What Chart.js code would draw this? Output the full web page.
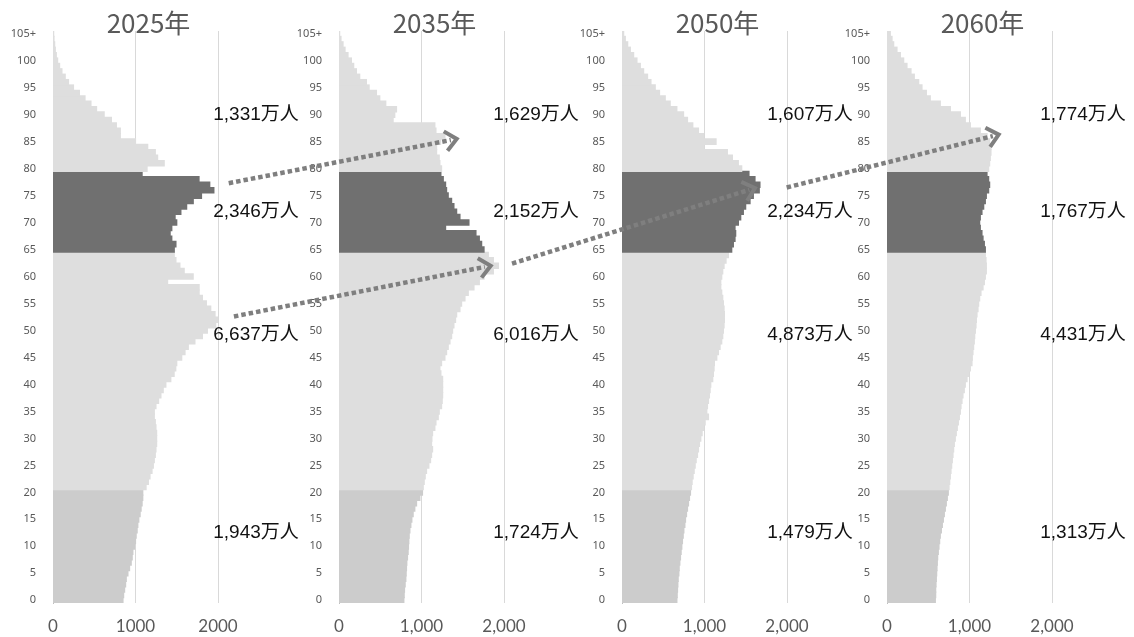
<!DOCTYPE html>
<html lang="ja">
<head>
<meta charset="utf-8">
<script src="https://cdn.jsdelivr.net/npm/chart.js@4.4.1/dist/chart.umd.min.js"></script>
<style>
html, body { margin: 0; padding: 0; background: #fff; }
#wrap { position: relative; width: 1134px; height: 637px; overflow: hidden; }
#wrap canvas { position: absolute; top: 0; }
#arrows { left: 0; pointer-events: none; }
</style>
</head>
<body>
<div id="wrap">
  <canvas id="c0" width="300" height="637"></canvas>
  <canvas id="c1" width="300" height="637"></canvas>
  <canvas id="c2" width="300" height="637"></canvas>
  <canvas id="c3" width="300" height="637"></canvas>
  <canvas id="arrows" width="1134" height="637"></canvas>
</div>
<script>
// 年齢 0〜105+（千人）
const ages = [];
for (let a = 0; a <= 105; a++) ages.push(a === 105 ? '105+' : String(a));

const years = ['2025年', '2035年', '2050年', '2060年'];

const pop2025 = [
  848, 856, 868, 880, 888, 908, 928, 948, 960, 968,
  988, 1000, 1008, 1020, 1028, 1040, 1056, 1068, 1080, 1088,
  1088, 1128, 1156, 1176, 1200, 1216, 1228, 1240, 1248, 1256,
  1256, 1256, 1248, 1240, 1228, 1228, 1248, 1280, 1308, 1336,
  1368, 1428, 1468, 1488, 1500, 1560, 1600, 1640, 1720, 1811,
  1871, 1972, 2004, 1964, 1912, 1859, 1811, 1771, 1771, 1389,
  1699, 1590, 1538, 1490, 1470, 1470, 1490, 1440, 1420, 1440,
  1500, 1480, 1550, 1620, 1700, 1800, 1950, 1900, 1770, 1080,
  1140, 1348, 1268, 1240, 1148, 1000, 816, 816, 768, 708,
  620, 528, 460, 388, 320, 248, 188, 148, 108, 80,
  56, 40, 28, 20, 12, 8
];
const pop2035 = [
  786, 790, 794, 802, 810, 814, 818, 822, 830, 838,
  842, 846, 851, 859, 871, 883, 899, 919, 940, 980,
  1012, 1021, 1033, 1045, 1061, 1089, 1110, 1122, 1134, 1122,
  1126, 1134, 1162, 1175, 1203, 1215, 1243, 1251, 1256, 1256,
  1256, 1256, 1235, 1223, 1243, 1284, 1304, 1324, 1345, 1365,
  1377, 1393, 1413, 1426, 1466, 1486, 1527, 1567, 1636, 1701,
  1758, 1871, 1932, 1871, 1810, 1758, 1729, 1701, 1660, 1292,
  1575, 1466, 1426, 1393, 1365, 1324, 1304, 1292, 1264, 1235,
  1243, 1223, 1215, 1183, 1183, 1231, 1284, 1175, 1162, 656,
  676, 697, 567, 494, 454, 365, 332, 251, 211, 178,
  150, 109, 73, 49, 24, 8
];
const pop2050 = [
  665, 669, 673, 677, 681, 689, 693, 701, 709, 717,
  725, 733, 742, 750, 762, 770, 782, 794, 806, 818,
  830, 842, 850, 862, 875, 887, 899, 915, 927, 939,
  955, 971, 987, 1008, 1048, 1028, 1036, 1048, 1060, 1068,
  1076, 1100, 1108, 1116, 1120, 1149, 1169, 1189, 1209, 1221,
  1229, 1237, 1241, 1241, 1237, 1229, 1221, 1209, 1197, 1197,
  1209, 1221, 1237, 1261, 1290, 1330, 1350, 1370, 1378, 1370,
  1411, 1439, 1471, 1499, 1552, 1592, 1664, 1672, 1612, 1539,
  1451, 1410, 1338, 1277, 990, 1140, 987, 927, 858, 794,
  746, 665, 584, 524, 455, 403, 351, 310, 262, 222,
  181, 141, 101, 69, 40, 20
];
const pop2060 = [
  586, 590, 590, 594, 598, 602, 606, 610, 614, 622,
  630, 638, 646, 659, 671, 683, 695, 707, 719, 731,
  743, 752, 760, 768, 776, 784, 792, 800, 808, 816,
  828, 840, 852, 865, 877, 889, 897, 909, 921, 937,
  949, 970, 990, 1010, 1030, 1034, 1042, 1050, 1058, 1063,
  1071, 1079, 1083, 1091, 1103, 1111, 1123, 1139, 1164, 1180,
  1192, 1204, 1204, 1200, 1192, 1192, 1180, 1164, 1151, 1131,
  1123, 1131, 1151, 1172, 1192, 1204, 1232, 1244, 1232, 1212,
  1232, 1244, 1252, 1260, 1260, 1244, 1212, 1131, 1010, 949,
  889, 768, 646, 525, 477, 424, 384, 331, 291, 242,
  202, 162, 121, 81, 61, 40
];

// 区分別人口（万人）: 80歳以上, 65-79歳, 21-64歳, 0-20歳
const totals2025 = [1331, 2346, 6637, 1943];
const totals2035 = [1629, 2152, 6016, 1724];
const totals2050 = [1607, 2234, 4873, 1479];
const totals2060 = [1774, 1767, 4431, 1313];

const series = [pop2025, pop2035, pop2050, pop2060];
const totals = [totals2025, totals2035, totals2050, totals2060];

// レイアウト
const plotLeft = [53, 339, 622, 887];
const PLOT_W = 165;
const AXIS_W = 50;
const CANVAS_W = 300;
const labelDx = [38, 32, 23, 31];
const labelAges = [90, 72, 49.3, 12.6];

function colorFor(a) {
  if (a <= 20) return '#cccccc';
  if (a >= 65 && a <= 79) return '#707070';
  return '#dedede';
}

const textPlugin = {
  id: 'texts',
  afterDraw(chart, args, opts) {
    const ctx = chart.ctx;
    const area = chart.chartArea;
    const y = chart.scales.y;
    ctx.save();
    ctx.fillStyle = '#595959';
    ctx.font = '26px "Noto Sans CJK JP", "Noto Sans", sans-serif';
    ctx.textAlign = 'center';
    ctx.textBaseline = 'alphabetic';
    ctx.fillText(opts.year, (area.left + area.right) / 2 + 13, 33);

    ctx.fillStyle = '#111111';
    ctx.font = '19px "Liberation Sans", "Noto Sans CJK JP", sans-serif';
    ctx.textBaseline = 'middle';
    opts.totals.forEach((t, k) => {
      ctx.fillText(t.toLocaleString('en-US') + '万人', area.right + opts.dx, y.getPixelForValue(labelAges[k]));
    });
    ctx.restore();
  }
};

const charts = [];
for (let i = 0; i < 4; i++) {
  const canvas = document.getElementById('c' + i);
  canvas.style.left = (plotLeft[i] - AXIS_W) + 'px';
  charts.push(new Chart(canvas, {
    type: 'bar',
    data: {
      labels: ages,
      datasets: [{
        data: series[i],
        backgroundColor: ages.map((_, a) => colorFor(a)),
        borderWidth: 0,
        inflateAmount: 0.6,
        categoryPercentage: 1,
        barPercentage: 1
      }]
    },
    options: {
      indexAxis: 'y',
      responsive: false,
      animation: false,
      events: [],
      layout: { padding: { top: 31, right: CANVAS_W - AXIS_W - PLOT_W, bottom: 0, left: 0 } },
      plugins: {
        legend: { display: false },
        tooltip: { enabled: false },
        texts: { year: years[i], totals: totals[i], dx: labelDx[i] }
      },
      scales: {
        x: {
          min: 0, max: 2000,
          ticks: {
            stepSize: 1000,
            padding: 13,
            color: '#595959',
            font: { family: 'Lato, "Open Sans", sans-serif', size: 17 },
            maxRotation: 0,
            callback: v => i === 0 ? String(v) : v.toLocaleString('en-US')
          },
          grid: {
            drawTicks: false,
            color: ctx => ctx.tick && ctx.tick.value === 0 ? '#bfbfbf' : '#d9d9d9'
          },
          border: { display: false },
          afterFit: s => { s.height = 34; }
        },
        y: {
          reverse: true,
          ticks: {
            autoSkip: false,
            padding: 17,
            color: '#595959',
            font: { family: '"Noto Sans", sans-serif', size: 11 },
            callback: (v, idx) => idx % 5 === 0 ? ages[idx] : ''
          },
          grid: { display: false, drawTicks: false },
          border: { display: true, color: '#bfbfbf', width: 1 },
          afterFit: s => { s.width = AXIS_W; }
        }
      }
    },
    plugins: [textPlugin]
  }));
}

// コーホート移動の矢印 [パネル, 値, 年齢]
const arrows = [
  { from: [0, 2130, 77.3], to: [1, 1427, 85.5] },
  { from: [0, 2193, 52.6], to: [1, 1839, 62.0] },
  { from: [1, 2097, 62.4], to: [2, 1612, 76.4] },
  { from: [2, 1996, 76.5], to: [3, 1354, 86.3] }
];

function toPx(p) {
  const ch = charts[p[0]];
  return {
    x: plotLeft[p[0]] - AXIS_W + ch.scales.x.getPixelForValue(p[1]),
    y: ch.scales.y.getPixelForValue(p[2])
  };
}

const actx = document.getElementById('arrows').getContext('2d');
actx.strokeStyle = '#7f7f7f';
arrows.forEach(ar => {
  const a = toPx(ar.from), b = toPx(ar.to);
  const ang = Math.atan2(b.y - a.y, b.x - a.x);
  const ex = b.x - Math.cos(ang) * 6, ey = b.y - Math.sin(ang) * 6;
  actx.lineWidth = 4.5;
  actx.lineCap = 'butt';
  actx.setLineDash([4.5, 3]);
  actx.beginPath();
  actx.moveTo(a.x, a.y);
  actx.lineTo(ex, ey);
  actx.stroke();
  actx.setLineDash([]);
  actx.lineWidth = 4;
  actx.lineJoin = 'miter';
  const L = 15, w = 0.72;
  actx.beginPath();
  actx.moveTo(b.x - L * Math.cos(ang - w), b.y - L * Math.sin(ang - w));
  actx.lineTo(b.x, b.y);
  actx.lineTo(b.x - L * Math.cos(ang + w), b.y - L * Math.sin(ang + w));
  actx.stroke();
});
</script>
</body>
</html>
